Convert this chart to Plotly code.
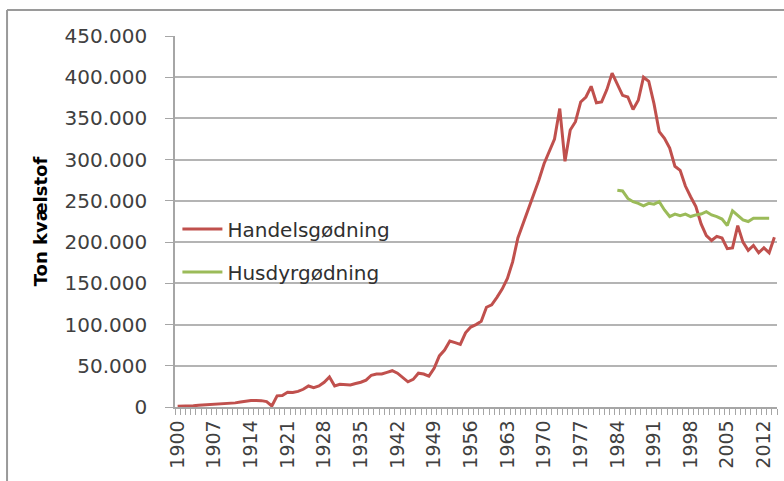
import plotly.graph_objects as go

# Annual nitrogen use in Danish agriculture (tonnes N)
years = list(range(1900, 2015))

handels = [
    1000, 1000, 1200, 1500, 2000, 2400, 2800, 3000, 3300, 3600,      # 1900-1909
    4200, 5000, 6000, 7000, 8000, 7800, 7700, 6500, 1200, 13500,     # 1910-1919
    14000, 18000, 17500, 19000, 21500, 25500, 23500, 25500, 30000, 36500,  # 1920-1929
    25500, 27500, 27000, 26800, 28500, 30000, 32500, 38500, 40000, 40000,  # 1930-1939
    42000, 44000, 41000, 36000, 30500, 33500, 41000, 40000, 37500, 47000,  # 1940-1949
    62000, 69000, 80000, 78000, 76000, 90000, 97000, 100000, 104000, 121000,  # 1950-1959
    124000, 133000, 143000, 156000, 176000, 205000, 222000, 240000, 258000, 275000,  # 1960-1969
    295000, 310000, 325000, 362000, 298000, 336000, 346000, 370000, 376000, 389000,  # 1970-1979
    369000, 370000, 385000, 405000, 392000, 378000, 376000, 361000, 372000, 400000,  # 1980-1989
    395000, 368000, 334000, 326000, 314000, 292000, 287000, 268000, 255000, 243000,  # 1990-1999
    222000, 208000, 202000, 207000, 205000, 192000, 193000, 220000, 200000, 190000,  # 2000-2009
    196000, 187000, 193000, 187000, 206000,                                          # 2010-2014
]

husdyr_years = list(range(1984, 2014))
husdyr = [
    263000, 262000, 253000, 249000, 247000, 244000, 247000, 246000, 249000, 239000,  # 1984-1993
    231000, 234000, 232000, 234000, 231000, 233000, 234000, 237000, 233000, 231000,  # 1994-2003
    228000, 220000, 238000, 232000, 227000, 225000, 229000, 229000, 229000, 229000,  # 2004-2013
]

x_labels = list(range(1900, 2015, 7))
y_ticks = list(range(0, 450001, 50000))

RED = "#c0504d"
GREEN = "#9bbb59"
GRID = "#b4b4b4"
AXIS = "#a6a6a6"
TEXT = "#404040"
FONT = "DejaVu Sans"

fig = go.Figure()
fig.add_trace(go.Scatter(
    x=years, y=handels, mode="lines", name="Handelsgødning",
    line=dict(color=RED, width=3), legendgroup="a",
))
fig.add_trace(go.Scatter(
    x=husdyr_years, y=husdyr, mode="lines", name="Husdyrgødning",
    line=dict(color=GREEN, width=3), legendgroup="b",
))

# outer frame (left and top edges)
fig.add_shape(type="line", xref="paper", yref="paper",
              x0=-0.279, x1=-0.279, y0=1.07, y1=-0.3,
              line=dict(color="#9a9a9a", width=2))
fig.add_shape(type="line", xref="paper", yref="paper",
              x0=-0.279, x1=1.02, y0=1.07, y1=1.07,
              line=dict(color="#9a9a9a", width=2))

fig.update_layout(
    width=784, height=481,
    margin=dict(l=175, r=7, t=36, b=74),
    paper_bgcolor="white", plot_bgcolor="white",
    separators=",.",
    font=dict(family=FONT, color=TEXT),
    showlegend=True,
    legend=dict(
        x=0.004, y=0.422, xanchor="left", yanchor="middle",
        font=dict(size=20, family=FONT, color="#303030"),
        bgcolor="rgba(0,0,0,0)", tracegroupgap=14,
        itemwidth=40,
    ),
    xaxis=dict(
        range=[1899.5, 2014.5],
        tickmode="array", tickvals=x_labels, ticktext=[str(v) for v in x_labels],
        tickangle=-90, tickfont=dict(size=19, family=FONT, color=TEXT),
        ticks="", ticklabelstandoff=4,
        showgrid=False, zeroline=False,
        showline=True, linecolor=AXIS, linewidth=1.5,
        minor=dict(tick0=1899.5, dtick=1, ticks="outside", ticklen=6,
                   tickcolor=AXIS, tickwidth=1, showgrid=False),
    ),
    yaxis=dict(
        range=[0, 450000],
        tickmode="array", tickvals=y_ticks, tickformat=",d",
        tickfont=dict(size=20, family=FONT, color=TEXT),
        ticks="outside", ticklen=8, tickcolor=AXIS, tickwidth=1,
        ticklabelstandoff=14,
        showgrid=True, gridcolor=GRID, gridwidth=1.5,
        zeroline=False,
        showline=True, linecolor=AXIS, linewidth=1.5,
        title=dict(text="<b>Ton kvælstof</b>", font=dict(size=18, family=FONT, color="#000000"),
                   standoff=12),
    ),
)

fig.write_html("out.html")
